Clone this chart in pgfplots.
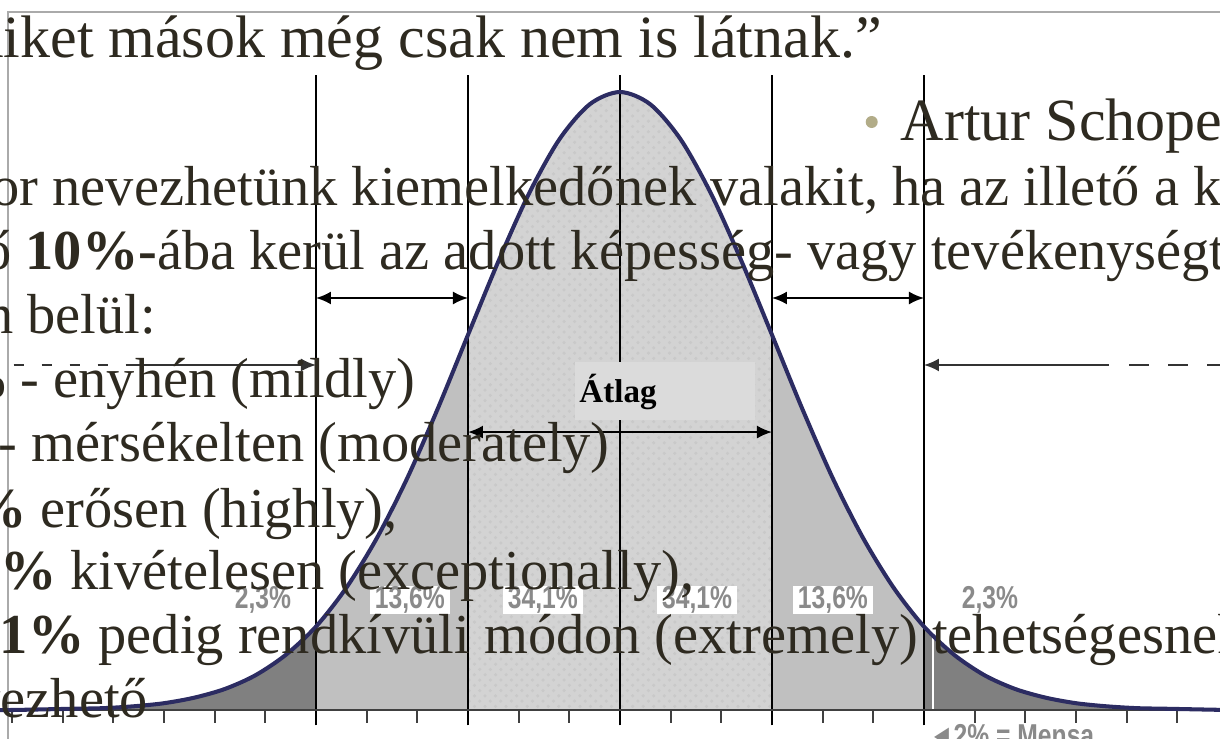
\documentclass[border=0pt]{standalone}
\usepackage{pgfplots}
\pgfplotsset{compat=1.18}
\usepackage{pgfplotstable}
\usepackage{fontspec}
\setmainfont{Liberation Serif}
\setsansfont{Liberation Sans}
\usetikzlibrary{arrows.meta,patterns}

\definecolor{slidetext}{RGB}{46,42,32}
\definecolor{bulletcol}{RGB}{178,172,136}
\definecolor{curvecol}{RGB}{44,44,98}
\definecolor{tailcol}{RGB}{128,128,128}
\definecolor{midcol}{RGB}{192,192,192}
\definecolor{corecol}{RGB}{211,211,211}
\definecolor{boxcol}{RGB}{219,219,219}
\definecolor{pctcol}{RGB}{138,138,138}
\definecolor{framecol}{RGB}{170,170,170}

% bell curve, x in standard deviations, height relative to the peak
\pgfplotstableread{
x y
-4.1 0.000
-4.0 0.000
-3.8 0.001
-3.6 0.002
-3.4 0.003
-3.2 0.006
-3.0 0.011
-2.8 0.020
-2.6 0.034
-2.4 0.056
-2.2 0.089
-2.0 0.135
-1.8 0.198
-1.6 0.278
-1.4 0.375
-1.2 0.487
-1.0 0.607
-0.8 0.726
-0.6 0.835
-0.4 0.923
-0.2 0.980
0.0 1.000
0.2 0.980
0.4 0.923
0.6 0.835
0.8 0.726
1.0 0.607
1.2 0.487
1.4 0.375
1.6 0.278
1.8 0.198
2.0 0.135
2.2 0.089
2.4 0.056
2.6 0.034
2.8 0.020
3.0 0.011
3.2 0.006
3.4 0.003
3.6 0.002
3.8 0.001
4.0 0.000
}\bell

\newcommand{\pct}[1]{\scalebox{0.78}[1]{\sffamily\bfseries\fontsize{9pt}{10pt}\selectfont #1}}

\begin{document}
\begin{tikzpicture}
\useasboundingbox (0,0) rectangle (12.2cm,7.38cm);
\clip (0,0) rectangle (12.2cm,7.38cm);
\fill[white] (0,0) rectangle (12.2cm,7.38cm);

% slide frame
\begin{scope}[x=0.1mm,y=-0.1mm,shift={(0mm,73.8mm)}]
\draw[framecol, line width=0.6pt] (8,740) -- (8,12) -- (1222,12);
\end{scope}

\begin{axis}[
  at={(0,0)}, anchor=south west,
  width=12.2cm, height=7.38cm,
  scale only axis,
  hide axis,
  xmin=-4.0789, xmax=3.9474,
  ymin=-0.0453, ymax=1.1489
]
% shaded areas
\addplot[draw=none, fill=tailcol, smooth, restrict x to domain=-4.2:-2] table {\bell} \closedcycle;
\addplot[draw=none, fill=midcol, smooth, restrict x to domain=-2:-1] table {\bell} \closedcycle;
\addplot[draw=none, fill=corecol, smooth, restrict x to domain=-1:1] table {\bell} \closedcycle;
\addplot[draw=none, pattern=crosshatch dots, pattern color=black!21, smooth, restrict x to domain=-1:1] table {\bell} \closedcycle;
\addplot[draw=none, fill=midcol, smooth, restrict x to domain=1:2] table {\bell} \closedcycle;
\addplot[draw=none, fill=tailcol, smooth, restrict x to domain=2:4.2] table {\bell} \closedcycle;
\draw[white, line width=0.6pt] (axis cs:2.06,0) -- (axis cs:2.06,0.118);

% standard deviation lines
\draw[black, line width=0.55pt] (axis cs:-2,-0.025) -- (axis cs:-2,1.0275);
\draw[black, line width=0.55pt] (axis cs:-1,-0.025) -- (axis cs:-1,1.0275);
\draw[black, line width=0.55pt] (axis cs:0,-0.025) -- (axis cs:0,1.0275);
\draw[black, line width=0.55pt] (axis cs:1,-0.025) -- (axis cs:1,1.0275);
\draw[black, line width=0.55pt] (axis cs:2,-0.025) -- (axis cs:2,1.0275);

% baseline and ticks
\addplot[black!75, line width=0.7pt, mark=none] coordinates {(-4.1,0) (4.0,0)};
\addplot[ycomb, black!75, line width=0.6pt, mark=none] coordinates {
(-4,-0.021) (-3.6667,-0.021) (-3.3333,-0.021) (-3,-0.021) (-2.6667,-0.021) (-2.3333,-0.021)
(-1.6667,-0.021) (-1.3333,-0.021) (-0.6667,-0.021) (-0.3333,-0.021)
(0.3333,-0.021) (0.6667,-0.021) (1.3333,-0.021) (1.6667,-0.021)
(2.3333,-0.021) (2.6667,-0.021) (3,-0.021) (3.3333,-0.021) (3.6667,-0.021)};

% the curve
\addplot[curvecol, line width=1.15pt, smooth, mark=none] table {\bell};

% Átlag box
\fill[boxcol] (axis cs:-0.296,0.469) rectangle (axis cs:0.888,0.563);
\node[font=\bfseries\fontsize{9.4pt}{10pt}\selectfont] at (axis cs:-0.013,0.5146) {Átlag};

% arrows
\draw[{Latex[length=1.5mm,width=1.3mm]}-{Latex[length=1.5mm,width=1.3mm]}, line width=0.55pt] (axis cs:-2,0.6667) -- (axis cs:-1,0.6667);
\draw[{Latex[length=1.5mm,width=1.3mm]}-{Latex[length=1.5mm,width=1.3mm]}, line width=0.55pt] (axis cs:1,0.6667) -- (axis cs:2,0.6667);
\draw[{Latex[length=1.5mm,width=1.3mm]}-{Latex[length=1.5mm,width=1.3mm]}, line width=0.55pt] (axis cs:-1,0.4498) -- (axis cs:1,0.4498);
\draw[black!80, line width=0.55pt, dash pattern=on 1mm off 1.8mm] (axis cs:-3.99,0.5583) -- (axis cs:-3.24,0.5583);
\draw[-{Latex[length=1.5mm,width=1.3mm]}, black!80, line width=0.55pt] (axis cs:-3.24,0.5583) -- (axis cs:-2,0.5583);
\draw[{Latex[length=1.5mm,width=1.3mm]}-, black!80, line width=0.55pt] (axis cs:2,0.5583) -- (axis cs:3.22,0.5583);
\draw[black!80, line width=0.55pt, dash pattern=on 2mm off 1.9mm] (axis cs:3.35,0.5583) -- (axis cs:4.0,0.5583);

% percentages
\node[text=pctcol] at (axis cs:-2.349,0.178) {\pct{2,3\%}};
\node[text=pctcol, fill=white, inner xsep=0.5mm, inner ysep=0.1mm] at (axis cs:-1.382,0.178) {\pct{13,6\%}};
\node[text=pctcol, fill=white, inner xsep=0.5mm, inner ysep=0.1mm] at (axis cs:-0.507,0.178) {\pct{34,1\%}};
\node[text=pctcol, fill=white, inner xsep=0.5mm, inner ysep=0.1mm] at (axis cs:0.507,0.178) {\pct{34,1\%}};
\node[text=pctcol, fill=white, inner xsep=0.5mm, inner ysep=0.1mm] at (axis cs:1.401,0.178) {\pct{13,6\%}};
\node[text=pctcol] at (axis cs:2.434,0.178) {\pct{2,3\%}};
\node[text=pctcol, anchor=base west, inner sep=0pt] at (axis cs:2.03,-0.059) {\pct{◄2\% = Mensa}};
\end{axis}

% slide text over the chart
\begin{scope}[x=0.1mm,y=-0.1mm,shift={(0mm,73.8mm)},
  every node/.style={anchor=base west, inner sep=0pt, text=slidetext,
    font=\fontsize{16.05pt}{19pt}\selectfont}]
\node[font=\fontsize{17.07pt}{20pt}\selectfont] at (3,57) {\llap{am}iket mások még csak nem is látnak.”};
\node[circle, fill=bulletcol, minimum size=1.2mm] at (865,122) {};
\node[font=\fontsize{17.07pt}{20pt}\selectfont] at (900,140) {Artur Schopenhauer};
\node at (52,205) {\llap{Akkor }nevezhetünk kiemelkedőnek valakit, ha az illető a kortársai};
\node at (25,269) {\llap{legfelső }\textbf{10\%-}ába kerül az adott képesség- vagy tevékenységterületen};
\node at (27,333) {\llap{területen }belül:};
\node at (53,397) {\llap{15\% - }enyhén (mildly)};
\node at (31,461) {\llap{10\% - }mérsékelten (moderately)};
\node at (40,527) {\llap{\textbf{5\%} }erősen (highly),};
\node at (70,589) {\llap{\textbf{0,1\%} }kivételesen (exceptionally),};
\node at (98,653) {\llap{\textbf{0,01\%} }pedig rendkívüli módon (extremely) tehetségesnek};
\node at (0,717) {\llap{nev}ezhető};
\end{scope}
\end{tikzpicture}
\end{document}
